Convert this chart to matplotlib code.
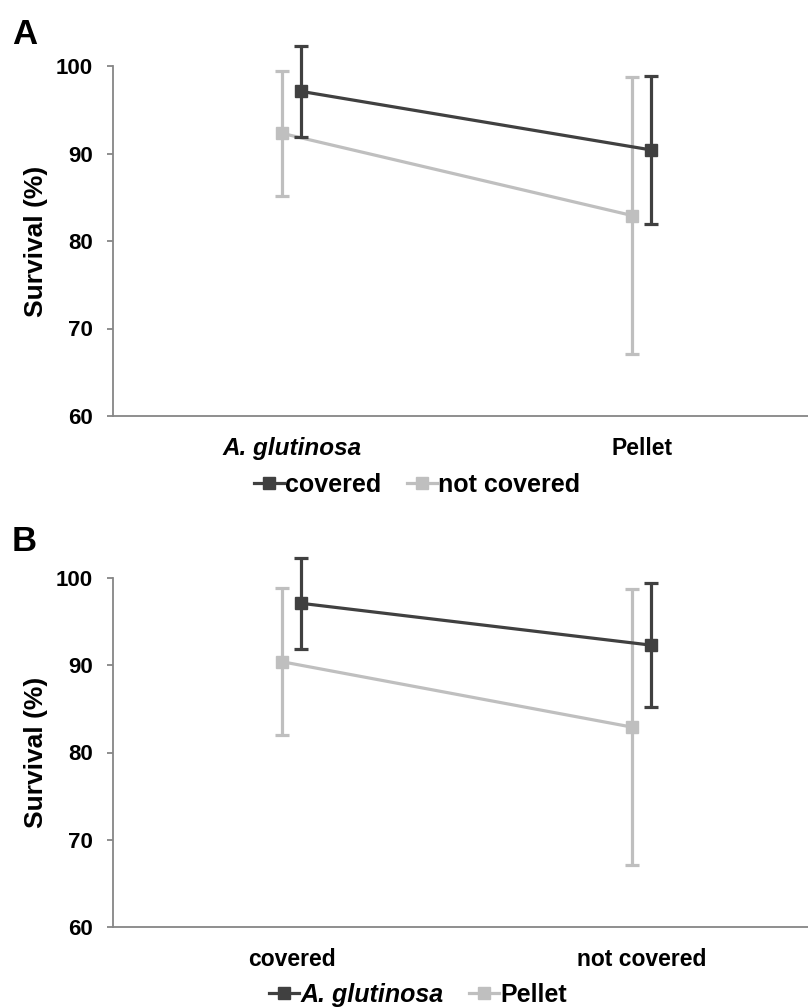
import matplotlib
matplotlib.use("Agg")
import matplotlib.pyplot as plt
import numpy as np

plt.rcParams['font.family'] = ['Liberation Sans', 'DejaVu Sans']

# Data
species = ["A. glutinosa", "Pellet"]
cover = ["covered", "not covered"]
mean_covered = [97.1, 90.4]      # A. glutinosa, Pellet
err_covered = [5.2, 8.4]
mean_notcovered = [92.3, 82.9]
err_notcovered = [7.1, 15.8]

dark = "#404040"
light = "#BFBFBF"
spine_col = "#868686"

W, H = 808, 1007
fig = plt.figure(figsize=(W / 100, H / 100), dpi=100)

left = 113 / W
width = 695 / W
axA = fig.add_axes([left, 1 - 416 / H, width, 350 / H])
axB = fig.add_axes([left, 1 - 927 / H, width, 349 / H])

off = 0.027
x = np.arange(2)


def style(ax):
    ax.set_ylim(60, 100)
    ax.set_xlim(-0.51, 1.474)
    ax.set_yticks([60, 70, 80, 90, 100])
    for s in ["top", "right"]:
        ax.spines[s].set_visible(False)
    for s in ["left", "bottom"]:
        ax.spines[s].set_color(spine_col)
        ax.spines[s].set_linewidth(1.3)
    ax.tick_params(axis="y", length=4.5, width=1.3, color=spine_col, pad=10,
                   labelsize=16)
    ax.tick_params(axis="x", length=0, pad=15, labelsize=16.5)
    for t in ax.get_yticklabels():
        t.set_fontweight("bold")
    ax.set_ylabel("Survival (%)", fontsize=19, fontweight="bold")
    ax.yaxis.set_label_coords(-0.094, 0.5)


def series(ax, xs, ys, es, col, label, z):
    return ax.errorbar(xs, ys, yerr=es, fmt="-s", color=col, ecolor=col,
                       lw=2.3, elinewidth=2.3, capsize=4.7, capthick=2.3,
                       markersize=8.5, clip_on=False, zorder=z, label=label)


# Panel A: x = species, series = cover
hA_nc = series(axA, x - off, mean_notcovered, err_notcovered, light, cover[1], 2)
hA_c = series(axA, x + off, mean_covered, err_covered, dark, cover[0], 3)
style(axA)
axA.set_xticks(x)
axA.set_xticklabels(species)
labs = axA.get_xticklabels()
labs[0].set_fontstyle("italic")
labs[0].set_fontsize(17.5)
for t in labs:
    t.set_fontweight("bold")

# Panel B: x = cover, series = species
agl = [mean_covered[0], mean_notcovered[0]]
agl_e = [err_covered[0], err_notcovered[0]]
pel = [mean_covered[1], mean_notcovered[1]]
pel_e = [err_covered[1], err_notcovered[1]]
hB_p = series(axB, x - off, pel, pel_e, light, species[1], 2)
hB_a = series(axB, x + off, agl, agl_e, dark, species[0], 3)
style(axB)
axB.set_xticks(x)
axB.set_xticklabels(cover)
for t in axB.get_xticklabels():
    t.set_fontweight("bold")

legA = fig.legend([hA_c[0], hA_nc[0]], [cover[0], cover[1]],
                  loc="center", bbox_to_anchor=(417 / W, 1 - 485 / H),
                  ncol=2, frameon=False, handlelength=1.2, handletextpad=0.05,
                  columnspacing=1.0, prop={"size": 18, "weight": "bold"})
legB = fig.legend([hB_a[0], hB_p[0]], [species[0], species[1]],
                  loc="center", bbox_to_anchor=(418 / W, 1 - 995 / H),
                  ncol=2, frameon=False, handlelength=1.2, handletextpad=0.05,
                  columnspacing=1.0, prop={"size": 18, "weight": "bold"})
legB.get_texts()[0].set_fontstyle("italic")

fig.text(12 / W, 1 - 18 / H, "A", fontsize=25, fontweight="bold", va="top", ha="left")
fig.text(12 / W, 1 - 525 / H, "B", fontsize=25, fontweight="bold", va="top", ha="left")

fig.savefig("out.png", dpi=100)
